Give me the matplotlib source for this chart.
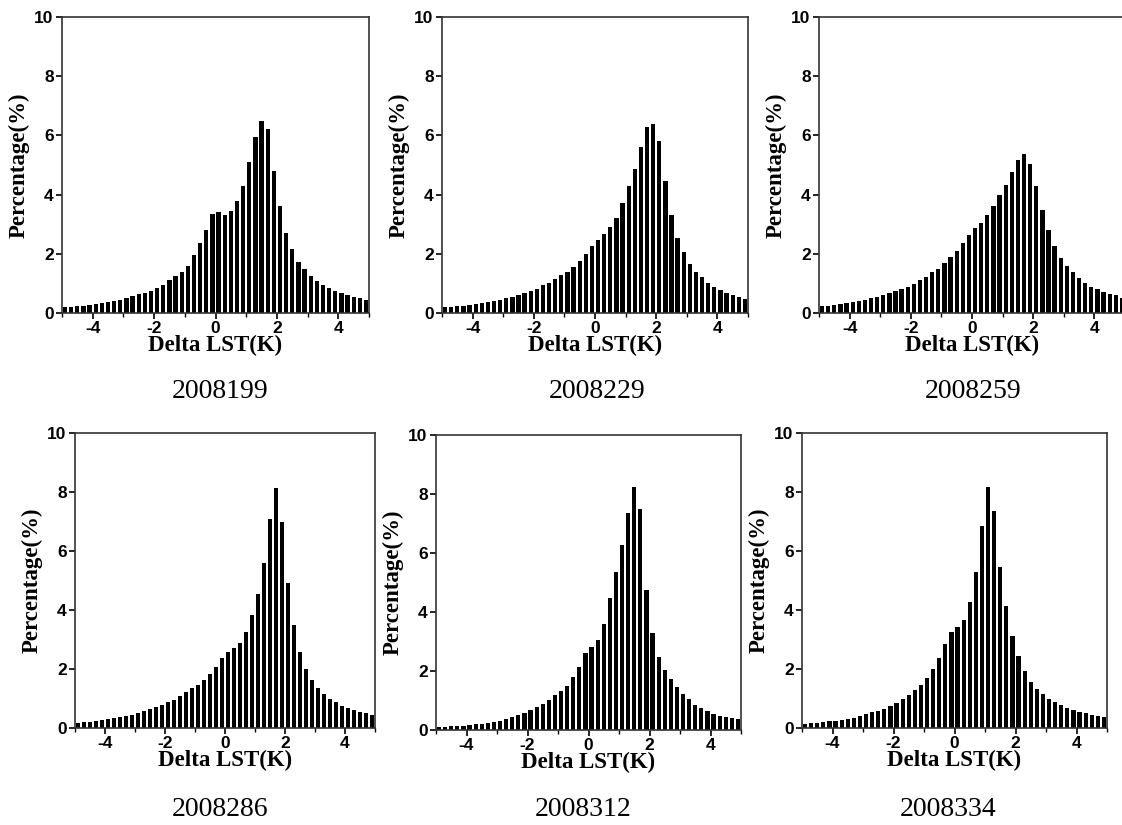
import numpy as np
import matplotlib
matplotlib.use('Agg')
import matplotlib.pyplot as plt
from matplotlib.ticker import MultipleLocator

plt.rcParams['font.family'] = 'Liberation Sans'
plt.rcParams['font.weight'] = 'bold'
plt.rcParams['axes.unicode_minus'] = False

# bin centres, 0.2 K bins
centers = np.round(np.arange(-4.9, 5.0, 0.2), 1)

days = ['2008199', '2008229', '2008259', '2008286', '2008312', '2008334']

p199 = [0.2, 0.2, 0.22, 0.25, 0.28, 0.3, 0.33, 0.36, 0.4, 0.43,
        0.5, 0.57, 0.63, 0.68, 0.75, 0.83, 0.95, 1.1, 1.25, 1.4,
        1.6, 1.95, 2.35, 2.8, 3.35, 3.42, 3.3, 3.45, 3.78, 4.3,
        5.1, 5.95, 6.5, 6.2, 4.8, 3.6, 2.7, 2.15, 1.72, 1.47,
        1.25, 1.07, 0.95, 0.83, 0.73, 0.67, 0.6, 0.55, 0.5, 0.45]
p229 = [0.2, 0.2, 0.22, 0.25, 0.27, 0.3, 0.33, 0.37, 0.4, 0.45,
        0.5, 0.55, 0.6, 0.67, 0.75, 0.82, 0.93, 1.03, 1.15, 1.3,
        1.38, 1.55, 1.75, 1.98, 2.25, 2.45, 2.68, 2.92, 3.22, 3.7,
        4.28, 4.88, 5.62, 6.28, 6.38, 5.82, 4.45, 3.32, 2.55, 2.05,
        1.65, 1.38, 1.2, 1.02, 0.88, 0.77, 0.68, 0.6, 0.53, 0.47]
p259 = [0.22, 0.25, 0.27, 0.3, 0.33, 0.37, 0.4, 0.45, 0.5, 0.55,
        0.6, 0.67, 0.73, 0.8, 0.88, 0.97, 1.1, 1.23, 1.38, 1.5,
        1.68, 1.9, 2.1, 2.38, 2.62, 2.87, 3.05, 3.32, 3.63, 3.98,
        4.33, 4.75, 5.18, 5.38, 5.02, 4.28, 3.48, 2.8, 2.27, 1.85,
        1.6, 1.37, 1.18, 1.02, 0.88, 0.8, 0.72, 0.65, 0.6, 0.52]
p286 = [0.18, 0.2, 0.22, 0.25, 0.27, 0.3, 0.33, 0.37, 0.4, 0.45,
        0.5, 0.57, 0.63, 0.7, 0.78, 0.87, 0.95, 1.07, 1.23, 1.35,
        1.45, 1.63, 1.83, 2.08, 2.37, 2.58, 2.7, 2.88, 3.27, 3.82,
        4.55, 5.58, 7.1, 8.15, 6.97, 4.9, 3.5, 2.57, 2.0, 1.63,
        1.37, 1.15, 0.98, 0.87, 0.75, 0.67, 0.6, 0.55, 0.5, 0.45]
p312 = [0.1, 0.1, 0.12, 0.13, 0.15, 0.17, 0.2, 0.22, 0.25, 0.28,
        0.32, 0.37, 0.43, 0.5, 0.58, 0.67, 0.77, 0.88, 1.02, 1.17,
        1.33, 1.5, 1.78, 2.15, 2.62, 2.8, 3.05, 3.58, 4.47, 5.37,
        6.27, 7.35, 8.25, 7.5, 4.75, 3.3, 2.48, 2.03, 1.72, 1.45,
        1.22, 1.05, 0.85, 0.75, 0.63, 0.55, 0.48, 0.43, 0.4, 0.37]
p334 = [0.15, 0.17, 0.18, 0.2, 0.23, 0.25, 0.28, 0.32, 0.35, 0.4,
        0.47, 0.53, 0.58, 0.65, 0.75, 0.85, 0.98, 1.12, 1.3, 1.47,
        1.7, 2.0, 2.38, 2.85, 3.25, 3.42, 3.67, 4.28, 5.3, 6.85,
        8.18, 7.37, 5.47, 4.12, 3.12, 2.45, 1.92, 1.55, 1.33, 1.15,
        1.0, 0.87, 0.77, 0.67, 0.6, 0.55, 0.5, 0.45, 0.42, 0.37]

series = [p199, p229, p259, p286, p312, p334]

W, H = 1122, 825
fig = plt.figure(figsize=(W / 100, H / 100), dpi=100)

# axes boxes in pixels: left, right, top, bottom
boxes = [(62, 369, 17, 313), (442, 748, 17, 313), (819, 1125, 17, 313),
         (75, 375, 433, 728), (436, 741, 435, 730), (802, 1107, 433, 728)]
cap_y = [392, 392, 392, 809, 809, 809]
cap_x = [220, 597, 973, 220, 583, 948]

serif = 'Liberation Serif'

for i, (vals, day) in enumerate(zip(series, days)):
    l, r, t, b = boxes[i]
    ax = fig.add_axes([l / W, 1 - b / H, (r - l) / W, (b - t) / H])
    ax.bar(centers, vals, width=0.14, color='black', edgecolor='none')
    ax.set_xlim(-5, 5)
    ax.set_ylim(0, 10)
    ax.set_xticks([-4, -2, 0, 2, 4])
    ax.xaxis.set_minor_locator(MultipleLocator(1))
    ax.set_yticks([0, 2, 4, 6, 8, 10])
    ax.tick_params(which='major', direction='out', length=4, width=1.2,
                   pad=2, labelsize=12.5)
    ax.tick_params(which='minor', direction='out', length=3, width=1.0)
    for s in ax.spines.values():
        s.set_linewidth(1.2)
        s.set_color('#333333')
    ax.set_xlabel('Delta LST(K)', fontfamily=serif, fontweight='bold',
                  fontsize=16.5, labelpad=-1)
    ax.set_ylabel('Percentage(%)', fontfamily=serif, fontweight='bold',
                  fontsize=16.5, labelpad=3)
    fig.text(cap_x[i] / W, 1 - cap_y[i] / H, day, fontfamily=serif,
             fontweight='normal', fontsize=20, ha='center', va='center')

fig.savefig('out.png', dpi=100)
